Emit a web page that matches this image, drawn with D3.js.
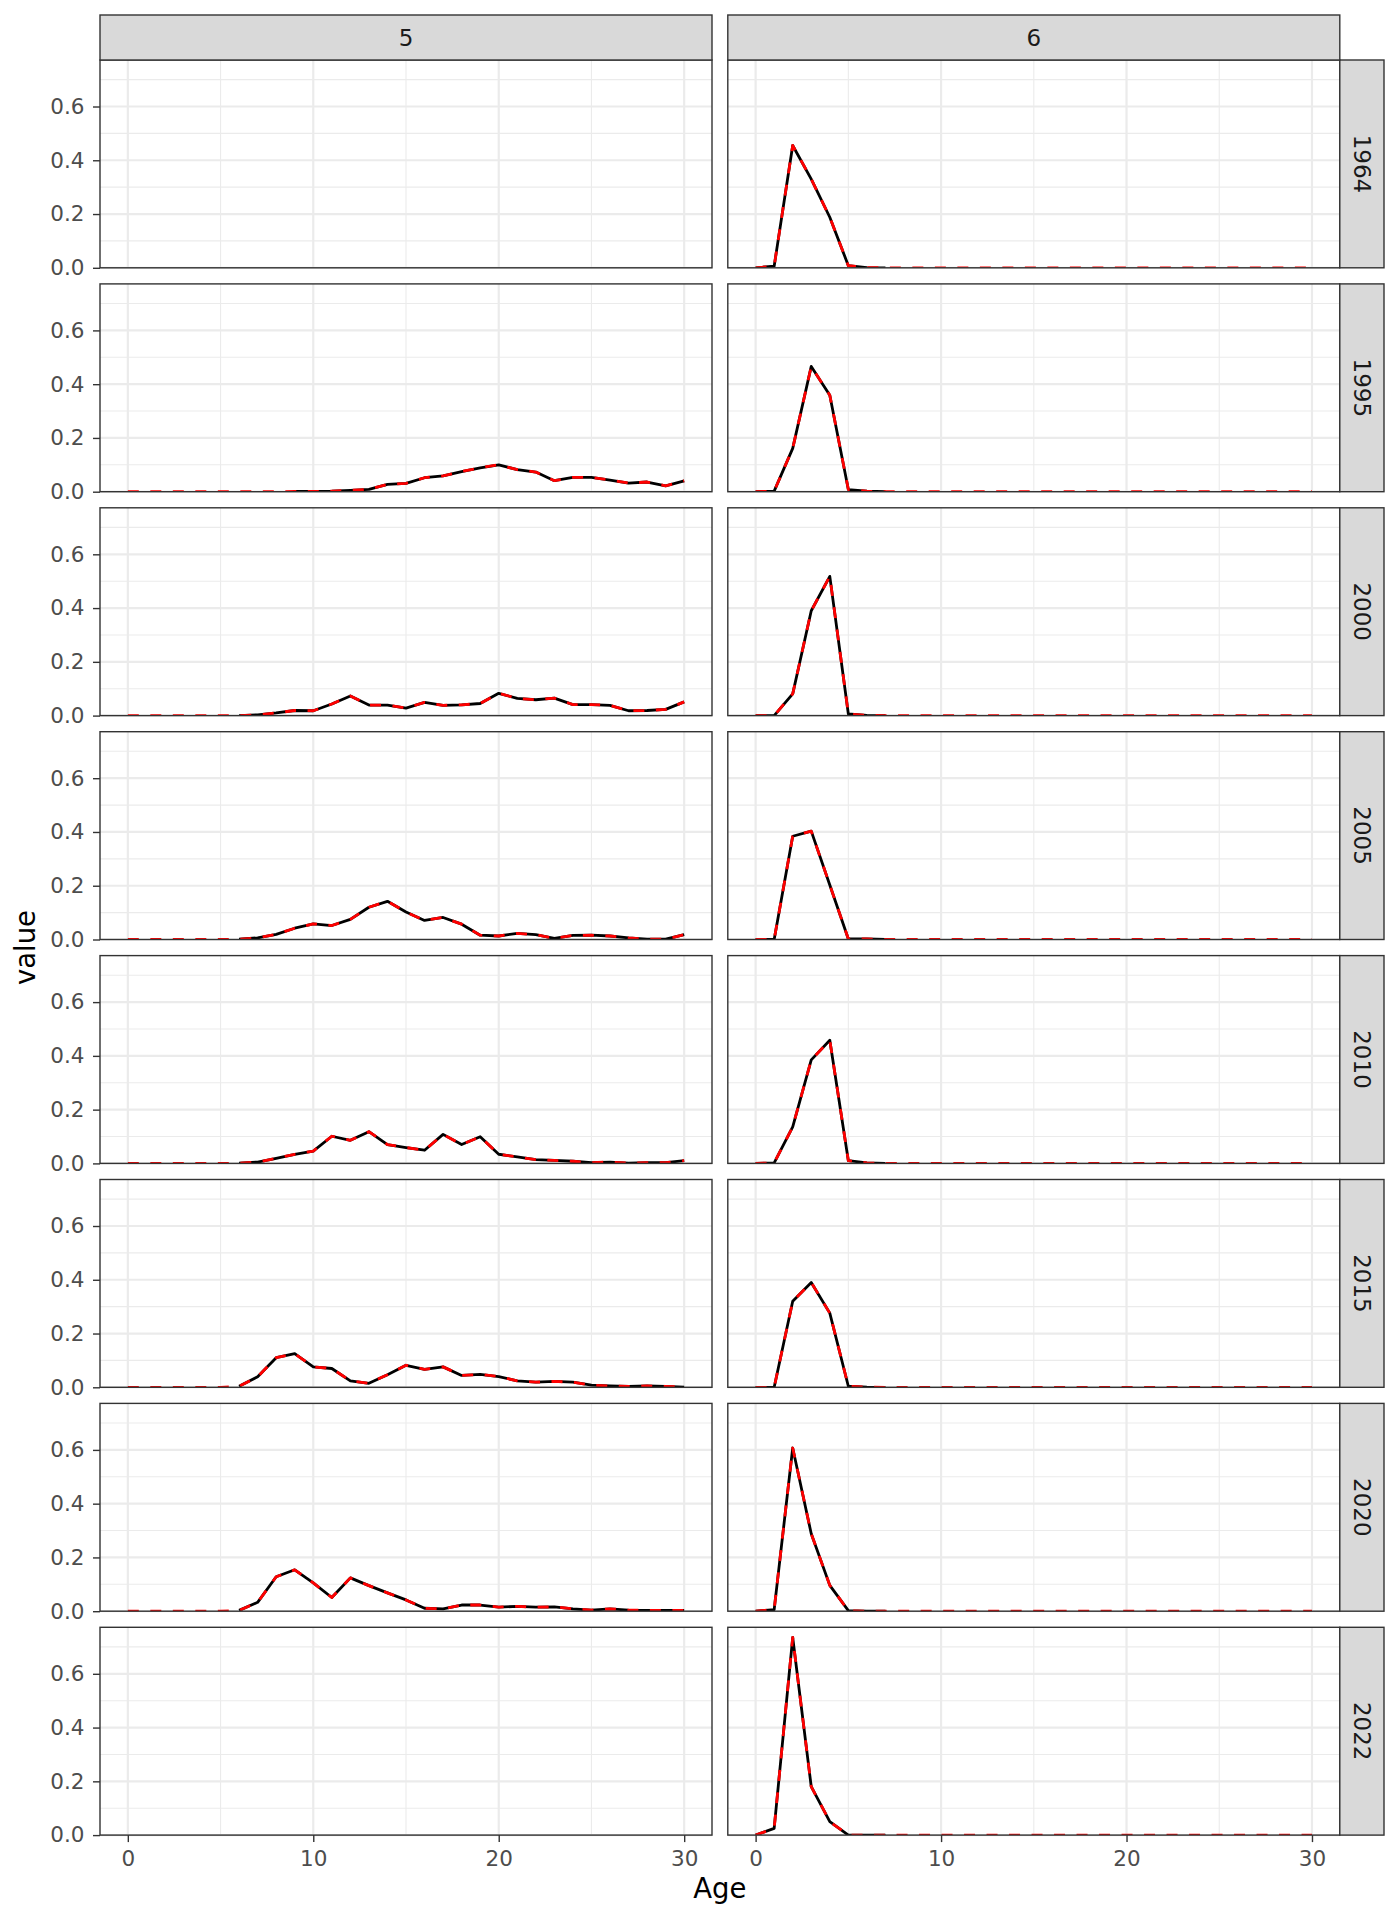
<!DOCTYPE html>
<html>
<head>
<meta charset="utf-8">
<script src="https://cdn.jsdelivr.net/npm/d3@7"></script>
<style>
  body { margin: 0; background: #fff; }
  text { font-family: "DejaVu Sans", sans-serif; }
</style>
</head>
<body>
<div class="chart"></div>
<script>
// facets
var fleets = ["5", "6"];
var years = ["1964", "1995", "2000", "2005", "2010", "2015", "2020", "2022"];
var ages = [0,1,2,3,4,5,6,7,8,9,10,11,12,13,14,15,16,17,18,19,20,21,22,23,24,25,26,27,28,29,30];

var xTicks = [0, 10, 20, 30];
var yTicks = [0, 0.2, 0.4, 0.6];

// fleet 5 - observed (black) and fitted (red dashed), ages 0..30
var obs5_1964 = [];
var fit5_1964 = [];
var obs5_1995 = [null,null,null,null,null,null,null,null,null,0.001,0.001,0.002,0.005,0.009,0.027,0.031,0.052,0.059,0.075,0.089,0.100,0.082,0.073,0.041,0.053,0.053,0.043,0.032,0.036,0.022,0.040];
var fit5_1995 = [0,0,0,0,0,0,0,0,0,0.001,0.001,0.002,0.005,0.009,0.027,0.031,0.052,0.059,0.075,0.089,0.100,0.082,0.073,0.041,0.053,0.053,0.043,0.032,0.036,0.022,0.040];
var obs5_2000 = [null,null,null,null,null,null,0,0.003,0.010,0.019,0.018,0.043,0.073,0.039,0.039,0.028,0.049,0.038,0.040,0.045,0.083,0.064,0.059,0.065,0.041,0.041,0.038,0.018,0.019,0.023,0.051];
var fit5_2000 = [0,0,0,0,0,0,0,0.003,0.010,0.019,0.018,0.043,0.073,0.039,0.039,0.028,0.049,0.038,0.040,0.045,0.083,0.064,0.059,0.065,0.041,0.041,0.038,0.018,0.019,0.023,0.051];
var obs5_2005 = [null,null,null,null,null,null,0.001,0.006,0.019,0.042,0.058,0.052,0.075,0.120,0.142,0.102,0.071,0.082,0.057,0.016,0.013,0.023,0.018,0.004,0.015,0.016,0.013,0.006,0.001,0.001,0.018];
var fit5_2005 = [0,0,0,0,0,0,0.001,0.006,0.019,0.042,0.058,0.052,0.075,0.120,0.142,0.102,0.071,0.082,0.057,0.016,0.013,0.023,0.018,0.004,0.015,0.016,0.013,0.006,0.001,0.001,0.018];
var obs5_2010 = [null,null,null,null,null,null,0.001,0.005,0.019,0.034,0.046,0.101,0.086,0.118,0.070,0.059,0.049,0.108,0.070,0.099,0.034,0.024,0.014,0.011,0.008,0.003,0.005,0.001,0.003,0.003,0.010];
var fit5_2010 = [0,0,0,0,0,0,0.001,0.005,0.019,0.034,0.046,0.101,0.086,0.118,0.070,0.059,0.049,0.108,0.070,0.099,0.034,0.024,0.014,0.011,0.008,0.003,0.005,0.001,0.003,0.003,0.010];
var obs5_2015 = [null,null,null,null,null,null,0.004,0.039,0.110,0.125,0.076,0.070,0.024,0.015,0.047,0.082,0.067,0.076,0.044,0.048,0.040,0.024,0.019,0.022,0.019,0.008,0.005,0.003,0.005,0.003,0.001];
var fit5_2015 = [0,0,0,0,0,0,0.004,0.039,0.110,0.125,0.076,0.070,0.024,0.015,0.047,0.082,0.067,0.076,0.044,0.048,0.040,0.024,0.019,0.022,0.019,0.008,0.005,0.003,0.005,0.003,0.001];
var obs5_2020 = [null,null,null,null,null,null,0.003,0.033,0.128,0.154,0.105,0.051,0.124,0.095,0.068,0.042,0.011,0.009,0.023,0.023,0.015,0.018,0.015,0.016,0.009,0.004,0.009,0.004,0.003,0.003,0.003];
var fit5_2020 = [0,0,0,0,0,0,0.003,0.033,0.128,0.154,0.105,0.051,0.124,0.095,0.068,0.042,0.011,0.009,0.023,0.023,0.015,0.018,0.015,0.016,0.009,0.004,0.009,0.004,0.003,0.003,0.003];
var obs5_2022 = [];
var fit5_2022 = [];

// fleet 6
var obs6_1964 = [0,0.006,0.455,0.330,0.188,0.008,0.001,0];
var fit6_1964 = [0,0.006,0.455,0.330,0.188,0.008,0.001,0,0,0,0,0,0,0,0,0,0,0,0,0,0,0,0,0,0,0,0,0,0,0,0];
var obs6_1995 = [0,0.002,0.161,0.466,0.359,0.008,0.002,0];
var fit6_1995 = [0,0.002,0.161,0.466,0.359,0.008,0.002,0,0,0,0,0,0,0,0,0,0,0,0,0,0,0,0,0,0,0,0,0,0,0,0];
var obs6_2000 = [0,0,0.081,0.390,0.518,0.006,0.001,0];
var fit6_2000 = [0,0,0.081,0.390,0.518,0.006,0.001,0,0,0,0,0,0,0,0,0,0,0,0,0,0,0,0,0,0,0,0,0,0,0,0];
var obs6_2005 = [0,0,0.384,0.403,0.203,0.002,0.002,0];
var fit6_2005 = [0,0,0.384,0.403,0.203,0.002,0.002,0,0,0,0,0,0,0,0,0,0,0,0,0,0,0,0,0,0,0,0,0,0,0,0];
var obs6_2010 = [0,0.002,0.136,0.385,0.458,0.010,0.002,0];
var fit6_2010 = [0,0.002,0.136,0.385,0.458,0.010,0.002,0,0,0,0,0,0,0,0,0,0,0,0,0,0,0,0,0,0,0,0,0,0,0,0];
var obs6_2015 = [0,0,0.320,0.390,0.276,0.004,0.001,0];
var fit6_2015 = [0,0,0.320,0.390,0.276,0.004,0.001,0,0,0,0,0,0,0,0,0,0,0,0,0,0,0,0,0,0,0,0,0,0,0,0];
var obs6_2020 = [0,0.006,0.607,0.288,0.096,0.002,0,0];
var fit6_2020 = [0,0.006,0.607,0.288,0.096,0.002,0,0,0,0,0,0,0,0,0,0,0,0,0,0,0,0,0,0,0,0,0,0,0,0,0];
var obs6_2022 = [0,0.025,0.735,0.180,0.050,0,0,0];
var fit6_2022 = [0,0.025,0.735,0.180,0.050,0,0,0,0,0,0,0,0,0,0,0,0,0,0,0,0,0,0,0,0,0,0,0,0,0,0];

var obsSeries = [
  [obs5_1964, obs5_1995, obs5_2000, obs5_2005, obs5_2010, obs5_2015, obs5_2020, obs5_2022],
  [obs6_1964, obs6_1995, obs6_2000, obs6_2005, obs6_2010, obs6_2015, obs6_2020, obs6_2022]];
var fitSeries = [
  [fit5_1964, fit5_1995, fit5_2000, fit5_2005, fit5_2010, fit5_2015, fit5_2020, fit5_2022],
  [fit6_1964, fit6_1995, fit6_2000, fit6_2005, fit6_2010, fit6_2015, fit6_2020, fit6_2022]];

var width = 1400, height = 1920;
var panelW = 612, panelH = 207.8;
var colX = [100, 727.8];
var rowTop0 = 60, rowStep = 223.9;
var stripTop = 15, stripRightW = 44.2;

var svg = d3.select(".chart")
  .append("svg")
  .attr("width", width)
  .attr("height", height);

svg.append("rect")
  .attr("width", "100%")
  .attr("height", "100%")
  .attr("fill", "#ffffff");

var x = d3.scaleLinear().domain([-1.5, 31.5]).range([0, panelW]);
var y = d3.scaleLinear().domain([0, 0.773]).range([panelH, 0]);

function toPoints(vals) {
  return vals.map(function (v, i) { return { age: ages[i], v: v }; });
}

var line = d3.line()
  .defined(function (d) { return d.v != null; })
  .x(function (d) { return x(d.age); })
  .y(function (d) { return y(d.v); });

fleets.forEach(function (f, c) {
  years.forEach(function (yr, r) {
    var g = svg.append("g")
      .attr("transform", "translate(" + colX[c] + "," + (rowTop0 + r * rowStep) + ")");

    g.append("rect").attr("width", panelW).attr("height", panelH).attr("fill", "#fff");

    // minor grid
    g.selectAll(".vminor").data([5, 15, 25]).enter().append("line")
      .attr("x1", function (d) { return x(d); }).attr("x2", function (d) { return x(d); })
      .attr("y1", 0).attr("y2", panelH)
      .attr("stroke", "#EBEBEB").attr("stroke-width", 1.1);
    g.selectAll(".hminor").data([0.1, 0.3, 0.5, 0.7]).enter().append("line")
      .attr("y1", function (d) { return y(d); }).attr("y2", function (d) { return y(d); })
      .attr("x1", 0).attr("x2", panelW)
      .attr("stroke", "#EBEBEB").attr("stroke-width", 1.1);
    // major grid
    g.selectAll(".vmajor").data(xTicks).enter().append("line")
      .attr("x1", function (d) { return x(d); }).attr("x2", function (d) { return x(d); })
      .attr("y1", 0).attr("y2", panelH)
      .attr("stroke", "#EBEBEB").attr("stroke-width", 2.2);
    g.selectAll(".hmajor").data(yTicks).enter().append("line")
      .attr("y1", function (d) { return y(d); }).attr("y2", function (d) { return y(d); })
      .attr("x1", 0).attr("x2", panelW)
      .attr("stroke", "#EBEBEB").attr("stroke-width", 2.2);

    var clipId = "clip" + c + "_" + r;
    g.append("clipPath").attr("id", clipId)
      .append("rect").attr("width", panelW).attr("height", panelH);

    var lines = g.append("g").attr("clip-path", "url(#" + clipId + ")");
    var obs = obsSeries[c][r], fit = fitSeries[c][r];
    if (obs.length) {
      lines.append("path").datum(toPoints(obs))
        .attr("d", line).attr("fill", "none")
        .attr("stroke", "black").attr("stroke-width", 2.8)
        .attr("stroke-linejoin", "round");
    }
    if (fit.length) {
      lines.append("path").datum(toPoints(fit))
        .attr("d", line).attr("fill", "none")
        .attr("stroke", "red").attr("stroke-width", 2.8)
        .attr("stroke-dasharray", "11,11.5")
        .attr("stroke-linejoin", "round");
    }

    g.append("rect").attr("width", panelW).attr("height", panelH)
      .attr("fill", "none").attr("stroke", "#333333").attr("stroke-width", 1.4);

    // y axis on left column
    if (c === 0) {
      var ya = g.append("g").call(d3.axisLeft(y).tickValues(yTicks)
        .tickFormat(d3.format(".1f")).tickSize(7).tickPadding(8.5));
      ya.select(".domain").remove();
      ya.selectAll("line").attr("stroke", "#333333").attr("stroke-width", 1.4);
      ya.selectAll("text").attr("fill", "#4D4D4D").style("font-size", "21.5px");
    }
    // x axis on bottom row
    if (r === years.length - 1) {
      var xa = g.append("g").attr("transform", "translate(0," + panelH + ")")
        .call(d3.axisBottom(x).tickValues(xTicks).tickSize(7).tickPadding(8.5));
      xa.select(".domain").remove();
      xa.selectAll("line").attr("stroke", "#333333").attr("stroke-width", 1.4);
      xa.selectAll("text").attr("fill", "#4D4D4D").style("font-size", "21.5px");
    }

    // right strip
    if (c === fleets.length - 1) {
      var s = g.append("g").attr("transform", "translate(" + panelW + ",0)");
      s.append("rect").attr("width", stripRightW).attr("height", panelH)
        .attr("fill", "#D9D9D9").attr("stroke", "#333333").attr("stroke-width", 1.4);
      s.append("text")
        .attr("transform", "translate(" + (stripRightW / 2) + "," + (panelH / 2) + ") rotate(90)")
        .attr("text-anchor", "middle").attr("dy", "0.36em")
        .attr("fill", "#1A1A1A").style("font-size", "23px")
        .text(yr);
    }
  });

  // top strip
  var st = svg.append("g").attr("transform", "translate(" + colX[c] + "," + stripTop + ")");
  st.append("rect").attr("width", panelW).attr("height", rowTop0 - stripTop)
    .attr("fill", "#D9D9D9").attr("stroke", "#333333").attr("stroke-width", 1.4);
  st.append("text")
    .attr("x", panelW / 2).attr("y", (rowTop0 - stripTop) / 2)
    .attr("dy", "0.36em").attr("text-anchor", "middle")
    .attr("fill", "#1A1A1A").style("font-size", "23px")
    .text(f);
});

// axis titles
var plotBottom = rowTop0 + (years.length - 1) * rowStep + panelH;
svg.append("text")
  .attr("x", (colX[0] + colX[1] + panelW) / 2)
  .attr("y", 1897.5)
  .attr("text-anchor", "middle")
  .style("font-size", "27.5px")
  .text("Age");

svg.append("text")
  .attr("transform", "translate(35," + ((rowTop0 + plotBottom) / 2) + ") rotate(-90)")
  .attr("text-anchor", "middle")
  .style("font-size", "27.5px")
  .text("value");
</script>
</body>
</html>
